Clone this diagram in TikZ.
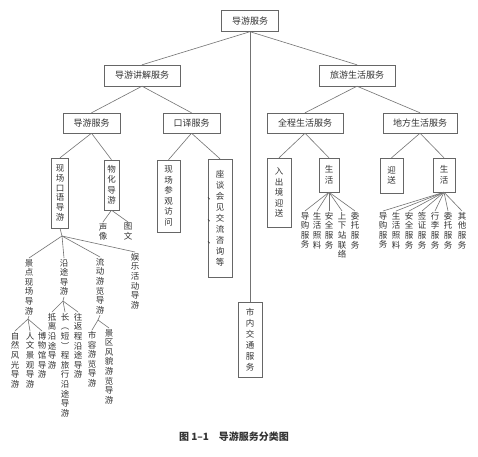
\documentclass[tikz,border=0pt]{standalone}
\usepackage{fontspec}
\newfontfamily\cjk{Noto Sans CJK SC}
\begin{document}
\begin{tikzpicture}[
    x=1pt, y=-1pt,
    hbox/.style={draw=black!60, fill=white, inner sep=0pt, minimum width=#1, minimum height=21,
                 text=black!80, font=\cjk\fontsize{9}{11}\selectfont},
    vbox/.style={draw=black!60, fill=white, inner sep=0pt, minimum width=#1, align=center,
                 text=black!80, font=\cjk\fontsize{8.5}{10.5}\selectfont},
    leaf/.style={anchor=north, inner sep=1pt, align=center,
                 text=black!80, font=\cjk\fontsize{8.5}{9.6}\selectfont},
    link/.style={draw=black!55, line width=0.6pt},
]
\useasboundingbox[fill=white] (0,0) rectangle (478,456);

% upper levels
\node[hbox=57] (root)    at (250,21)    {导游服务};
\node[hbox=76] (explain) at (142,75.5)  {导游讲解服务};
\node[hbox=76] (life)    at (357,75.5)  {旅游生活服务};
\node[hbox=57, minimum height=20] (guide)  at (91.5,123)  {导游服务};
\node[hbox=57, minimum height=20] (interp) at (191.5,123) {口译服务};
\node[hbox=76, minimum height=20] (whole)  at (305,123)   {全程生活服务};
\node[hbox=74, minimum height=20] (local)  at (420,123)   {地方生活服务};

% vertical boxes
\node[vbox=17, minimum height=70, font=\cjk\fontsize{8.5}{9.7}\selectfont] (oral) at (60,193) {现\\场\\口\\语\\导\\游};
\node[vbox=15, minimum height=50] (object) at (111.5,185)  {物\\化\\导\\游};
\node[vbox=23, minimum height=72] (visit)  at (168.5,196)  {现\\场\\参\\观\\访\\问};
\node[vbox=24, minimum height=118, font=\cjk\fontsize{8.5}{11}\selectfont] (talk) at (220,218)
    {座\\谈\\\llap{、}会\\见\\\llap{、}交\\流\\\llap{、}咨\\询\\等};
\node[vbox=24, minimum height=69] (border) at (279,192.5)  {入\\出\\境\\迎\\送};
\node[vbox=20, minimum height=34] (wlife)  at (329,175)    {生\\活};
\node[vbox=23, minimum height=35] (greet)  at (391.5,175.5){迎\\送};
\node[vbox=22, minimum height=34] (llife)  at (444,175)    {生\\活};
\node[vbox=24, minimum height=75, font=\cjk\fontsize{8.5}{11}\selectfont] (city) at (250,339.5) {市\\内\\交\\通\\服\\务};

% leaves, left
\node[leaf] (sound)     at (103,222) {声\\像};
\node[leaf] (graph)     at (128,222) {图\\文};
\node[leaf] (scenic)    at (29,258)  {景\\点\\现\\场\\导\\游};
\node[leaf] (route)     at (64,258)  {沿\\途\\导\\游};
\node[leaf] (tour)      at (100,257) {流\\动\\游\\览\\导\\游};
\node[leaf] (fun)       at (135,252) {娱\\乐\\活\\动\\导\\游};
\node[leaf] (nature)    at (15,331)  {自\\然\\风\\光\\导\\游};
\node[leaf] (culture)   at (30,331)  {人\\文\\景\\观\\导\\游};
\node[leaf] (museum)    at (42,331)  {博\\物\\馆\\导\\游};
\node[leaf] (arrive)    at (52,312)  {抵\\离\\沿\\途\\导\\游};
\node[leaf] (longshort) at (65,312)  {长\\︵\\短\\︶\\程\\旅\\行\\沿\\途\\导\\游};
\node[leaf] (return)    at (78,312)  {往\\返\\程\\沿\\途\\导\\游};
\node[leaf] (cityview)  at (92,330)  {市\\容\\游\\览\\导\\游};
\node[leaf] (scenery)   at (109,328) {景\\区\\风\\貌\\游\\览\\导\\游};

% leaves, right
\node[leaf] (wshop)    at (305,211) {导\\购\\服\\务};
\node[leaf] (wcare)    at (317,211) {生\\活\\照\\料};
\node[leaf] (wsafe)    at (329,211) {安\\全\\服\\务};
\node[leaf] (wlink)    at (342,211) {上\\下\\站\\联\\络};
\node[leaf] (wentrust) at (355,211) {委\\托\\服\\务};
\node[leaf] (lshop)    at (383,211) {导\\购\\服\\务};
\node[leaf] (lcare)    at (396,211) {生\\活\\照\\料};
\node[leaf] (lsafe)    at (409,211) {安\\全\\服\\务};
\node[leaf] (lvisa)    at (422,211) {签\\证\\服\\务};
\node[leaf] (lbag)     at (435,211) {行\\李\\服\\务};
\node[leaf] (lentrust) at (448,211) {委\\托\\服\\务};
\node[leaf] (lother)   at (462,211) {其\\他\\服\\务};

% fan points
\coordinate (joral)   at (62,236);
\coordinate (jscenic) at (28,319);
\coordinate (jroute)  at (63,301);
\coordinate (jtour)   at (98,320);

% connectors
\draw[link] (root.south) -- (explain.north);
\draw[link] (root.south) -- (life.north);
\draw[link] (root.south) -- (city.north);
\draw[link] (explain.south) -- (guide.north);
\draw[link] (explain.south) -- (interp.north);
\draw[link] (life.south) -- (whole.north);
\draw[link] (life.south) -- (local.north);
\draw[link] (guide.south) -- (oral.north);
\draw[link] (guide.south) -- (object.north);
\draw[link] (interp.south) -- (visit.north);
\draw[link] (interp.south) -- (talk.north);
\draw[link] (whole.south) -- (border.north);
\draw[link] (whole.south) -- (wlife.north);
\draw[link] (local.south) -- (greet.north);
\draw[link] (local.south) -- (llife.north);
\draw[link] (object.south) -- (sound.north);
\draw[link] (object.south) -- (graph.north);
\draw[link] (oral.south) -- (joral);
\foreach \n in {scenic,route,tour,fun}
    \draw[link] (joral) -- (\n.north);
\draw[link] (scenic.south) -- (jscenic);
\foreach \n in {nature,culture,museum}
    \draw[link] (jscenic) -- (\n.north);
\draw[link] (route.south) -- (jroute);
\foreach \n in {arrive,longshort,return}
    \draw[link] (jroute) -- (\n.north);
\draw[link] (tour.south) -- (jtour);
\foreach \n in {cityview,scenery}
    \draw[link] (jtour) -- (\n.north);
\foreach \n in {wshop,wcare,wsafe,wlink,wentrust}
    \draw[link] (wlife.south) -- (\n.north);
\foreach \n in {lshop,lcare,lsafe,lvisa,lbag,lentrust,lother}
    \draw[link] (llife.south) -- (\n.north);

% caption
\node[text=black!80, font=\cjk\bfseries\fontsize{10}{12}\selectfont] (caption) at (234,437) {图 1–1\quad 导游服务分类图};
\end{tikzpicture}
\end{document}
